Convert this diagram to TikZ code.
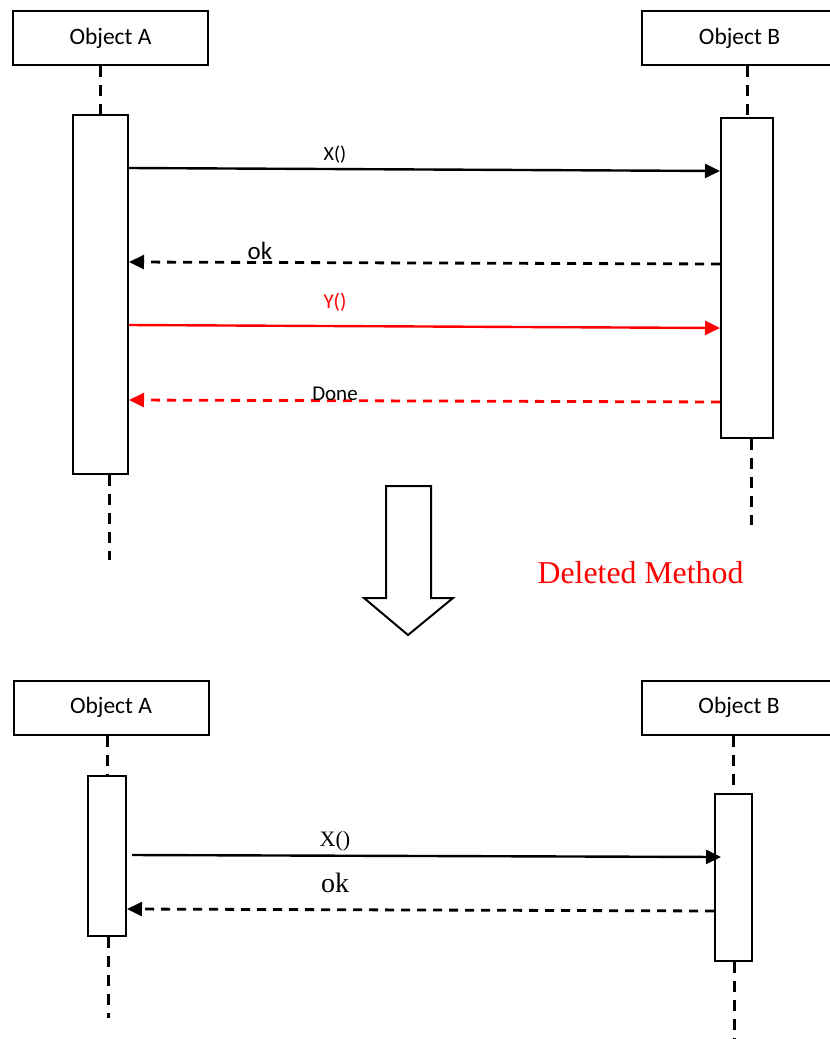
\documentclass[tikz,border=0pt]{standalone}
\usepackage{fontspec}
\setmainfont{Carlito}
\newfontfamily\tnr{Liberation Serif}
\usetikzlibrary{positioning,calc,arrows.meta}

\begin{document}
\begin{tikzpicture}[x=0.5pt,y=-0.5pt,
	ostyle/.style={draw, line width=1pt, minimum width=97.5pt, minimum height=27pt,
	inner sep=0pt, font=\fontsize{11.75}{14}\selectfont},
	astyle/.style={draw, fill=white, line width=1pt, inner sep=0pt},
	lstyle/.style={line width=1.5pt, dash pattern=on 5.5pt off 4pt},
	mstyle/.style={line width=1.2pt, -{Triangle[length=7.5pt,width=7pt]}},
	rstyle/.style={mstyle, line width=1.4pt, dash pattern=on 4.5pt off 3.5pt},
	tstyle/.style={anchor=base, inner sep=0pt}
	]
	\useasboundingbox (0,0) rectangle (830,1039);
	
	\node[ostyle] (objA) at (110.5,38) {Object A};
	\node[ostyle] (objB) [right=216pt of objA] {Object B};
	\node[astyle, minimum width=27.5pt, minimum height=179.5pt] (actA) at (100.5,294.5) {};
	\node[astyle, minimum width=26pt, minimum height=160pt] (actB) at (747,278) {};
	\coordinate (endA) at (109,560);
	\coordinate (endB) at (751,525);
	
	\draw[lstyle] (objA.south -| actA) to (actA.north);
	\draw[lstyle] (actA.south -| endA) to (endA);
	\draw[lstyle] (objB.south -| actB) to (actB.north);
	\draw[lstyle] (actB.south -| endB) to (endB);
	
	\draw[mstyle] ($(actA.north east)+(0,54)$) to ($(actB.north west)+(0,54)$);
	\draw[rstyle] ($(actB.north west)+(0,147)$) to ($(actA.north east)+(0,148)$);
	\draw[mstyle, red] ($(actA.north east)+(0,211)$) to ($(actB.north west)+(0,211)$);
	\draw[rstyle, red] ($(actB.north west)+(0,285)$) to ($(actA.north east)+(0,286)$);
	
	\node[tstyle, font=\fontsize{10}{12}\selectfont] (lx) at (335,160) {X()};
	\node[tstyle, font=\fontsize{12.5}{14}\selectfont] (lok) at (260,259) {ok};
	\node[tstyle, red, font=\fontsize{10.5}{12}\selectfont] (ly) at (335,308) {Y()};
	\node[tstyle, font=\fontsize{10.5}{12}\selectfont] (ldone) at (335,400) {Done};
	
	% hollow arrow between the two diagrams
	\draw[line width=1pt, fill=white] (386,486) -- (431,486) -- (431,598) -- (453,598)
	-- (408,635) -- (364,598) -- (386,598) -- cycle;
	\node[tstyle, red, font=\tnr\fontsize{15.9}{18}\selectfont] (del) at (640.5,583) {Deleted Method};
	
	\node[ostyle] (objA2) at (111,707.5) {Object A};
	\node[ostyle] (objB2) [right=215.5pt of objA2] {Object B};
	\node[astyle, minimum width=19pt, minimum height=80pt] (actA2) at (107,856) {};
	\node[astyle, minimum width=18.5pt, minimum height=83.5pt] (actB2) at (733.5,877.5) {};
	\coordinate (endA2) at (108,1018);
	\coordinate (endB2) at (734,1039);
	
	\draw[lstyle] (objA2.south -| actA2) to (actA2.north);
	\draw[lstyle] (actA2.south -| endA2) to (endA2);
	\draw[lstyle] (objB2.south -| actB2) to (actB2.north);
	\draw[lstyle] (actB2.south -| endB2) to (endB2);
	
	\draw[mstyle] ($(actA2.north east)+(5,80)$) to ($(actB2.north west)+(7,64)$);
	\draw[rstyle] ($(actB2.north west)+(0,118)$) to ($(actA2.north east)+(0,134)$);
	
	\node[tstyle, font=\tnr\fontsize{11}{13}\selectfont] (lx2) at (335,846) {X()};
	\node[tstyle, font=\tnr\fontsize{14}{16}\selectfont] (lok2) at (335,892) {ok};
\end{tikzpicture}
\end{document}
